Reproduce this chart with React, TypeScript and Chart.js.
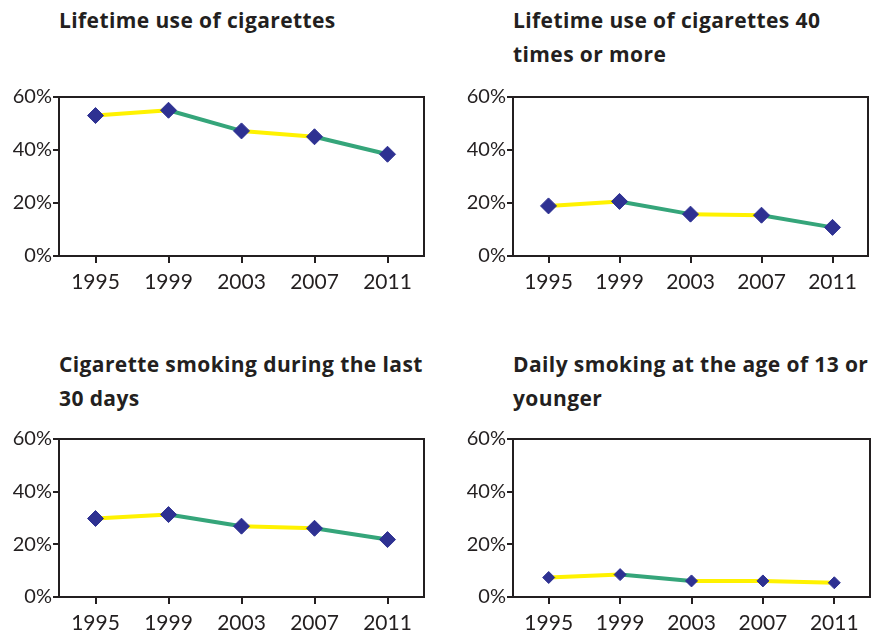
import React, { useEffect, useRef } from "react";
import { Chart, registerables } from "chart.js";

Chart.register(...registerables);

// ---- data ----
const years = ["1995", "1999", "2003", "2007", "2011"];
const lifetimeUse = [53, 55, 47.2, 45, 38.4];
const lifetime40Times = [18.9, 20.6, 15.8, 15.4, 10.8];
const last30Days = [29.8, 31.3, 26.9, 26.1, 21.8];
const dailyBy13 = [7.4, 8.5, 6.1, 6.1, 5.4];
const yTickValues = [0, 20, 40, 60];

const titles = [
  ["Lifetime use of cigarettes"],
  ["Lifetime use of cigarettes 40", "times or more"],
  ["Cigarette smoking during the last", "30 days"],
  ["Daily smoking at the age of 13 or", "younger"],
];

// ---- styles ----
const YELLOW = "#fff200";
const GREEN = "#35a57a";
const NAVY = "#2e3192";
const AXIS = "#231f20";
const TEXT = "#231f20";
const FONT = "Lato, 'Open Sans', sans-serif";
const TITLE_FONT = "'Open Sans', Lato, sans-serif";

const seg1 = [YELLOW, GREEN, YELLOW, GREEN];
const seg2 = [YELLOW, GREEN, YELLOW, GREEN];
const seg3 = [YELLOW, GREEN, YELLOW, GREEN];
const seg4 = [YELLOW, GREEN, YELLOW, YELLOW];

const framePlugin = {
  id: "frame",
  beforeDatasetsDraw(chart: any) {
    const { ctx, chartArea } = chart;
    ctx.save();
    ctx.strokeStyle = AXIS;
    ctx.lineWidth = 2;
    ctx.beginPath();
    ctx.moveTo(chartArea.left, chartArea.top);
    ctx.lineTo(chartArea.right, chartArea.top);
    ctx.lineTo(chartArea.right, chartArea.bottom);
    ctx.stroke();
    ctx.restore();
  },
};

type PanelProps = {
  left: number;
  top: number;
  width: number;
  height: number;
  yAxisWidth: number;
  padTop: number;
  padRight: number;
  xAxisHeight: number;
  values: number[];
  segments: string[];
  pointRadius: number;
};

function Panel(p: PanelProps) {
  const ref = useRef<HTMLCanvasElement | null>(null);
  useEffect(() => {
    if (!ref.current) return;
    const chart = new Chart(ref.current, {
      type: "line",
      data: {
        labels: years,
        datasets: [
          {
            data: p.values,
            borderWidth: 4,
            borderColor: p.segments[0],
            segment: {
              borderColor: (ctx: any) => p.segments[ctx.p0DataIndex],
            },
            tension: 0,
            pointStyle: "rectRot",
            pointRadius: p.pointRadius,
            pointBackgroundColor: NAVY,
            pointBorderColor: NAVY,
            pointBorderWidth: 1,
          } as any,
        ],
      },
      options: {
        responsive: false,
        maintainAspectRatio: false,
        animation: false,
        layout: { padding: { top: p.padTop, right: p.padRight, left: 0, bottom: 0 } },
        plugins: {
          legend: { display: false },
          tooltip: { enabled: false },
          title: { display: false },
        },
        scales: {
          x: {
            offset: true,
            grid: {
              drawOnChartArea: false,
              drawTicks: true,
              tickLength: 7,
              color: AXIS,
              lineWidth: 2,
              offset: false,
            },
            border: { color: AXIS, width: 2 },
            ticks: {
              color: TEXT,
              font: { family: FONT, size: 21 },
              padding: 7,
              maxRotation: 0,
              autoSkip: false,
            },
            afterFit: (s: any) => {
              s.height = p.xAxisHeight;
            },
          },
          y: {
            min: yTickValues[0],
            max: yTickValues[yTickValues.length - 1],
            afterBuildTicks: (s: any) => {
              s.ticks = yTickValues.map((v) => ({ value: v }));
            },
            grid: {
              drawOnChartArea: false,
              drawTicks: true,
              tickLength: 6,
              color: AXIS,
              lineWidth: 2,
            },
            border: { color: AXIS, width: 2 },
            ticks: {
              color: TEXT,
              font: { family: FONT, size: 20 },
              padding: 1,
              callback: (v: any) => v + "%",
            },
            afterFit: (s: any) => {
              s.width = p.yAxisWidth;
            },
          },
        },
      },
      plugins: [framePlugin],
    });
    return () => chart.destroy();
  }, []);
  return (
    <canvas
      ref={ref}
      width={p.width}
      height={p.height}
      style={{ position: "absolute", left: p.left, top: p.top, width: p.width, height: p.height }}
    />
  );
}

function Title({ left, top, lines }: { left: number; top: number; lines: string[] }) {
  return (
    <div
      style={{
        position: "absolute",
        left,
        top,
        fontFamily: TITLE_FONT,
        fontWeight: 700,
        fontSize: 21,
        letterSpacing: "0.4px",
        lineHeight: "34px",
        color: TEXT,
        whiteSpace: "nowrap",
      }}
    >
      {lines.map((l, i) => (
        <div key={i}>{l}</div>
      ))}
    </div>
  );
}

export default function App() {
  return (
    <div style={{ position: "absolute", left: 0, top: 0, width: 877, height: 630, background: "#fff", overflow: "hidden" }}>
      <Title left={59} top={3} lines={titles[0]} />
      <Title left={513} top={3} lines={titles[1]} />
      <Title left={59} top={347} lines={titles[2]} />
      <Title left={513} top={347} lines={titles[3]} />
      <Panel left={0} top={80} width={440} height={210} yAxisWidth={59} padTop={17} padRight={16} xAxisHeight={34} values={lifetimeUse} segments={seg1} pointRadius={8} />
      <Panel left={440} top={80} width={437} height={210} yAxisWidth={73} padTop={17} padRight={2} xAxisHeight={34} values={lifetime40Times} segments={seg2} pointRadius={8} />
      <Panel left={0} top={420} width={440} height={210} yAxisWidth={59} padTop={19} padRight={16} xAxisHeight={33} values={last30Days} segments={seg3} pointRadius={8} />
      <Panel left={440} top={420} width={437} height={210} yAxisWidth={73} padTop={19} padRight={2} xAxisHeight={33} values={dailyBy13} segments={seg4} pointRadius={6} />
    </div>
  );
}
